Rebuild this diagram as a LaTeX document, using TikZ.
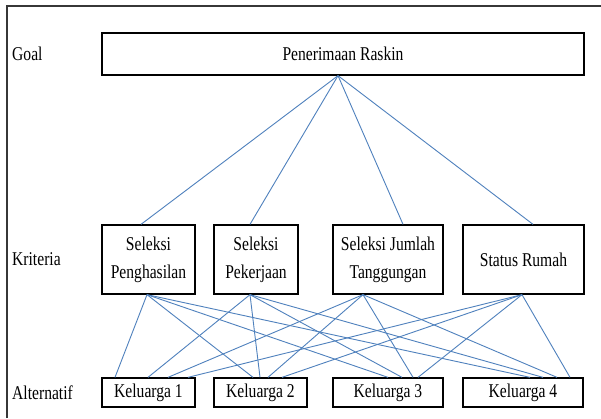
\documentclass[tikz,border=0pt]{standalone}
\usepackage{fontspec}
\setmainfont{Liberation Serif}
\usetikzlibrary{calc}
\definecolor{linkc}{RGB}{79,129,189}
\definecolor{framec}{RGB}{55,55,55}
\newcommand{\sq}[1]{\scalebox{0.8}[1]{#1}}
\begin{document}
\begin{tikzpicture}[x=1pt,y=-1pt,
  box/.style={draw=black, line width=1.3pt, inner sep=0pt, align=center, font=\fontsize{19.5}{28}\selectfont},
  lab/.style={anchor=west, inner sep=0pt, font=\fontsize{19.5}{23}\selectfont},
  link/.style={draw=linkc, line width=0.9pt}]
\useasboundingbox (0,0) rectangle (601,418);
\fill[white] (0,0) rectangle (601,418);
\draw[framec, line width=1.5pt] (7,418) -- (7,6) -- (601,6);
% labels
\node[lab] (lg) at (12,54) {\sq{Goal}};
\node[lab] (lk) at (12,259.5) {\sq{Kriteria}};
\node[lab] (la) at (12,392.5) {\sq{Alternatif}};
% goal
\node[box, minimum width=482pt, minimum height=42pt] (g) at (343,54) {\sq{Penerimaan Raskin}};
% criteria
\node[box, minimum width=93pt, minimum height=69pt] (c1) at (148.5,259.5) {\sq{Seleksi}\\\sq{Penghasilan}};
\node[box, minimum width=84pt, minimum height=69pt] (c2) at (256,259.5) {\sq{Seleksi}\\\sq{Pekerjaan}};
\node[box, minimum width=110pt, minimum height=69pt] (c3) at (388,259.5) {\sq{Seleksi Jumlah}\\\sq{Tanggungan}};
\node[box, minimum width=121pt, minimum height=69pt] (c4) at (523.5,259.5) {\sq{Status Rumah}};
% alternatives
\node[box, minimum width=93pt, minimum height=29pt] (k1) at (148.5,392.5) {\sq{Keluarga 1}};
\node[box, minimum width=93pt, minimum height=29pt] (k2) at (260.5,392.5) {\sq{Keluarga 2}};
\node[box, minimum width=110pt, minimum height=29pt] (k3) at (388,392.5) {\sq{Keluarga 3}};
\node[box, minimum width=120pt, minimum height=29pt] (k4) at (523,392.5) {\sq{Keluarga 4}};
% goal links
\coordinate (apex) at ($(g.south)+(-5,0)$);
\draw[link] (apex) -- ($(c1.north)+(-7.5,0)$);
\draw[link] (apex) -- ($(c2.north)+(-6,0)$);
\draw[link] (apex) -- ($(c3.north)+(15,0)$);
\draw[link] (apex) -- ($(c4.north)+(9.5,0)$);
% criteria sources
\coordinate (s1) at ($(c1.south)+(-1.5,0)$);
\coordinate (s2) at ($(c2.south)+(-6,0)$);
\coordinate (s3) at ($(c3.south)+(-25,0)$);
\coordinate (s4) at ($(c4.south)+(-1.5,0)$);
% alternative links
\foreach \k/\a/\b/\c/\d in {k1/-33.5/-0.5/19.5/39.5, k2/-7.5/-0.5/7.5/21.5, k3/0/14/25/30, k4/7/20/34/47}{
  \draw[link] (s1) -- ($(\k.north)+(\a,0)$);
  \draw[link] (s2) -- ($(\k.north)+(\b,0)$);
  \draw[link] (s3) -- ($(\k.north)+(\c,0)$);
  \draw[link] (s4) -- ($(\k.north)+(\d,0)$);
}
\end{tikzpicture}
\end{document}
